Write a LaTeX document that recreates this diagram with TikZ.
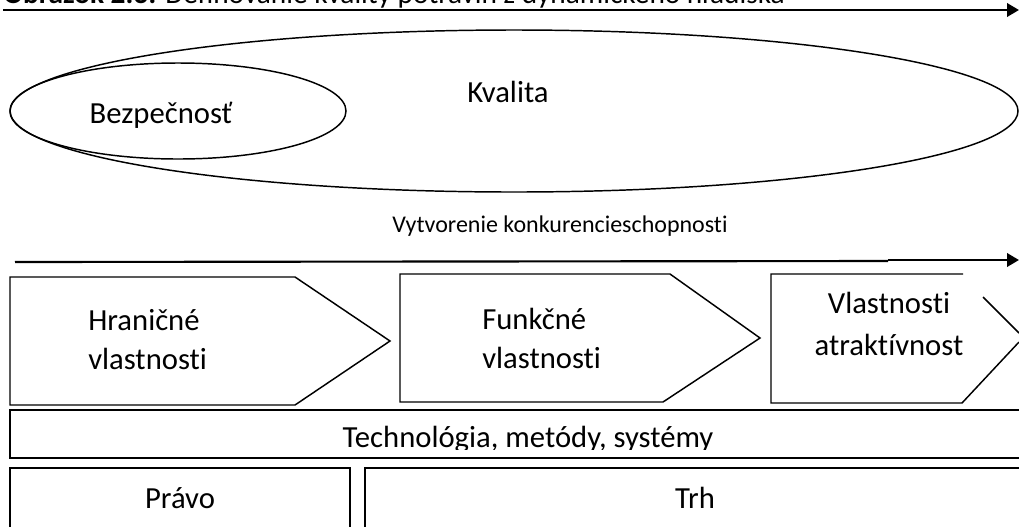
\documentclass[tikz,border=0pt]{standalone}
\usepackage{fontspec}
\setmainfont{Carlito}[Ligatures=NoCommon]
\usetikzlibrary{arrows.meta,shapes.geometric}
\tikzset{
  box/.style={line width=1.1pt},
  txt/.style={font=\fontsize{23}{29}\selectfont, inner sep=0pt},
  smalltxt/.style={font=\fontsize{18}{21}\selectfont, inner sep=0pt},
  flow/.style={line width=2pt, -{Triangle[length=9pt,width=10pt]}},
}

\begin{document}
\begin{tikzpicture}[x=0.75pt,y=-0.75pt]
        \useasboundingbox (0,0) rectangle (1019,526);
        % title, cut off at the top
        \node[anchor=base west, inner sep=0pt, font=\fontsize{22}{26}\selectfont] (title) at (3,3)
          {\textbf{Obrázok 2.3:} Definovanie kvality potravín z dynamického hľadiska};
        % upper arrow
        \coordinate (t0) at (3,10);
        \coordinate (t1) at (1019,10);
        \draw[flow] (t0) -- (t1);
        % ellipses
        \node[draw, ellipse, box, inner sep=0pt, minimum width=756pt, minimum height=121.5pt] (kvalita) at (514,111) {};
        \node[draw, ellipse, box, inner sep=0pt, minimum width=252pt, minimum height=72pt] (bezp) at (178,111) {};
        \node[txt, anchor=base] (kvtext) at (508,102) {Kvalita};
        \node[txt, anchor=base] (bztext) at (161,123) {Bezpečnosť};
        % middle arrow
        \node[smalltxt, anchor=base] (konk) at (560,232) {Vytvorenie konkurencieschopnosti};
        \coordinate (m0) at (15,262);
        \coordinate (m1) at (888,261);
        \coordinate (m2) at (888,260);
        \coordinate (m3) at (1019,260);
        \draw[line width=1.6pt] (m0) -- (m1);
        \draw[flow] (m2) -- (m3);
        % arrow boxes
        \draw[box] (10,277) -- (295,277) -- (390,341) -- (295,405) -- (10,405) -- cycle;
        \draw[box] (400,274) -- (670,274) -- (760,338) -- (663,402) -- (400,402) -- cycle;
        \draw[box] (963,274) -- (771,274) -- (771,403) -- (962,403) -- (1019,342);
        \draw[box] (983,297) -- (1019,333);
        \node[txt, anchor=base west, align=left] (hran) at (88,369) {Hraničné\\vlastnosti};
        \node[txt, anchor=base west, align=left] (funk) at (482,368) {Funkčné\\vlastnosti};
        \node[txt, anchor=base, align=center, font=\fontsize{23}{31.5}\selectfont] (vlast) at (889,355) {Vlastnosti\\atraktívnost};
        % bottom boxes
        \draw[box] (10,410) rectangle (1030,458);
        \begin{scope}
          \clip (10,410) rectangle (1030,449);
          \node[txt, anchor=base] (tech) at (528,447) {Technológia, metódy, systémy};
        \end{scope}
        \draw[box] (10,468) rectangle (350,540);
        \draw[box] (365,468) rectangle (1030,540);
        \node[txt, anchor=base] (pravo) at (180,508) {Právo};
        \node[txt, anchor=base] (trh) at (695,508) {Trh};
\end{tikzpicture}
\end{document}
